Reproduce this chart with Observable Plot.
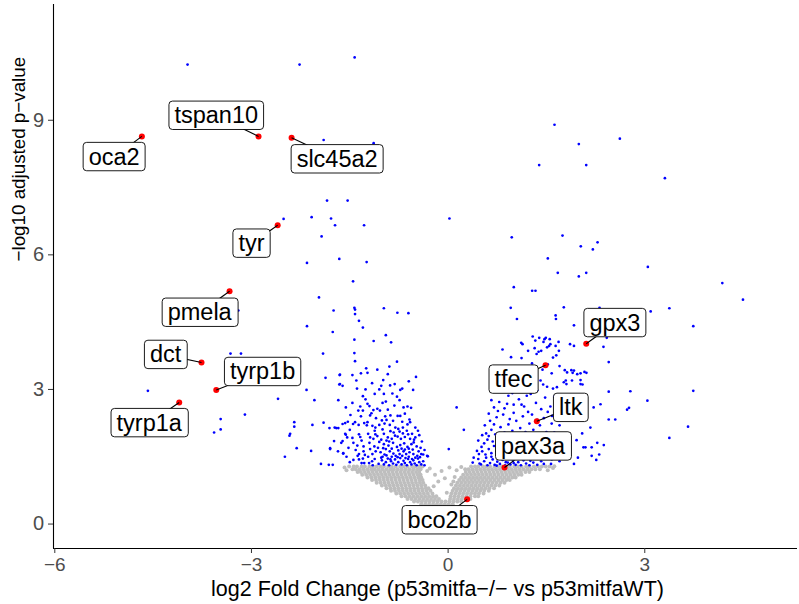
<!DOCTYPE html>
<html>
<head>
<meta charset="utf-8">
<script src="https://cdn.jsdelivr.net/npm/d3@7"></script>
<script src="https://cdn.jsdelivr.net/npm/@observablehq/plot@0.6"></script>
<style>
  html, body { margin: 0; padding: 0; background: #ffffff; }
  #chart svg { display: block; }
</style>
</head>
<body>
<div id="chart"></div>
<script>
// ---------- axis data ----------
const xTicks = [-6, -3, 0, 3];
const yTicks = [0, 3, 6, 9];
const xDomain = [-6.02, 5.33];
const yDomain = [-0.545, 11.58];
const xTitle = "log2 Fold Change (p53mitfa−/− vs p53mitfaWT)";
const yTitle = "−log10 adjusted p−value";

// ---------- non-significant genes (grey), rows of [-log10 padj, log2FC values] ----------
const greyRows = [
  [1.28, [-1.51,-1.44,-1.39,-1.32,-1.27,-1.20,-1.15,-1.09,-1.03,-0.98,-0.91,-0.86,-0.80,-0.73,-0.68,-0.62,-0.55,-0.50,-0.44,-0.39,
          0.35,0.41,0.46,0.53,0.58,0.64,0.71,0.76,0.82,0.89,0.94,1.01,1.06,1.12,1.19,1.24,1.31,1.37,1.43,1.49,1.55]],
  [1.22, [-1.46,-1.41,-1.35,-1.29,-1.23,-1.17,-1.12,-1.06,-1.00,-0.94,-0.88,-0.83,-0.77,-0.71,-0.65,-0.59,-0.53,-0.47,-0.42,
          0.31,0.37,0.43,0.49,0.55,0.61,0.67,0.73,0.79,0.85,0.91,0.97,1.03,1.09,1.15,1.21,1.27,1.33,1.40]],
  [1.16, [-1.38,-1.33,-1.27,-1.21,-1.15,-1.09,-1.03,-0.97,-0.91,-0.85,-0.79,-0.73,-0.67,-0.61,-0.55,-0.49,-0.44,
          0.27,0.33,0.39,0.45,0.51,0.57,0.63,0.69,0.75,0.81,0.87,0.93,0.99,1.05,1.11,1.18,1.24]],
  [1.10, [-1.31,-1.25,-1.19,-1.13,-1.07,-1.01,-0.95,-0.89,-0.83,-0.77,-0.71,-0.65,-0.59,-0.53,-0.47,-0.42,
          0.23,0.29,0.35,0.41,0.47,0.53,0.59,0.65,0.71,0.77,0.83,0.89,0.95,1.01,1.07,1.12]],
  [1.04, [-1.23,-1.17,-1.11,-1.05,-0.99,-0.93,-0.87,-0.81,-0.75,-0.69,-0.63,-0.57,-0.51,-0.45,-0.41,
          0.20,0.26,0.32,0.38,0.44,0.50,0.56,0.62,0.68,0.74,0.80,0.86,0.92,0.98,1.03]],
  [0.98, [-1.16,-1.10,-1.04,-0.98,-0.92,-0.86,-0.80,-0.74,-0.68,-0.62,-0.56,-0.50,-0.44,-0.39,
          0.17,0.23,0.29,0.35,0.41,0.47,0.53,0.59,0.65,0.71,0.77,0.83,0.89,0.94]],
  [0.92, [-1.09,-1.03,-0.97,-0.91,-0.85,-0.79,-0.73,-0.67,-0.61,-0.55,-0.49,-0.43,-0.38,
          0.14,0.20,0.26,0.32,0.38,0.44,0.50,0.56,0.62,0.68,0.74,0.80,0.86]],
  [0.86, [-1.01,-0.95,-0.89,-0.83,-0.77,-0.71,-0.65,-0.59,-0.53,-0.47,-0.41,-0.35,
          0.12,0.18,0.24,0.30,0.36,0.42,0.48,0.54,0.60,0.66,0.72,0.78]],
  [0.80, [-0.94,-0.88,-0.82,-0.76,-0.70,-0.64,-0.58,-0.52,-0.46,-0.40,-0.34,-0.30,
          0.09,0.15,0.21,0.27,0.33,0.39,0.45,0.51,0.57,0.63,0.70]],
  [0.74, [-0.87,-0.81,-0.75,-0.69,-0.63,-0.57,-0.51,-0.45,-0.39,-0.33,-0.27,
          0.07,0.13,0.19,0.25,0.31,0.37,0.43,0.49,0.55,0.62]],
  [0.68, [-0.79,-0.73,-0.67,-0.61,-0.55,-0.49,-0.43,-0.37,-0.31,-0.24,
          0.05,0.11,0.17,0.23,0.29,0.35,0.41,0.47,0.54]],
  [0.62, [-0.71,-0.65,-0.59,-0.53,-0.47,-0.41,-0.35,-0.29,-0.23,-0.18,
          0.04,0.10,0.16,0.22,0.28,0.34,0.41,0.46]],
  [0.56, [-0.62,-0.56,-0.50,-0.44,-0.38,-0.32,-0.26,-0.20,-0.14,
          0.03,0.09,0.15,0.21,0.27,0.34]],
  [0.50, [-0.52,-0.46,-0.40,-0.34,-0.28,-0.22,-0.16,-0.10,-0.04,0.02,0.08,0.14,0.20]],
  [0.44, [-0.41,-0.35,-0.29,-0.23,-0.17,-0.11,-0.05,0.01,0.07]],
  [0.38, [-0.30,-0.24,-0.18,-0.12,-0.06,0.00]]
];
const greyExtra = [
  [-0.28,1.24],[-0.20,1.10],[-0.10,1.18],[0.02,1.26],[0.10,1.05],[-0.15,0.95],[0.05,0.88],
  [0.20,1.27],[-0.05,1.02],[0.13,1.20],[-0.22,0.84],[-0.32,1.18],[0.26,1.22],
  [-1.58,1.26],[-1.55,1.20],[1.60,1.25],[1.62,1.29],[1.52,1.20],[-0.02,0.70],[0.08,0.95]
];

// ---------- significant genes (blue): [log2FC, -log10 padj] ----------
const blueLeft = [
  [-3.975,10.24],[-2.266,10.24],[-1.426,10.40],[-1.899,8.56],[-1.136,8.49],[-1.847,7.21],[-1.533,7.21],
  [-2.51,6.80],[-2.082,6.84],[-1.786,6.81],[-1.725,6.66],[-1.282,6.66],[-1.93,6.41],[-2.153,5.82],
  [-1.66,5.91],[-1.243,5.84],[-1.45,5.41],[-1.97,5.05],
  [-3.20,4.76],[-3.32,3.80],[-3.16,3.80],[-4.58,2.97],[-3.10,2.44],[-3.47,2.34],[-3.57,2.04],[-3.47,2.11],
  [-2.595,2.79],[-2.153,4.41],[-2.16,2.99],[-1.908,3.80],[-1.76,4.28],[-1.747,4.76],[-1.65,3.33],[-1.65,3.12],
  [-2.347,2.27],[-2.347,2.17],[-2.41,2.01],[-2.42,1.97],[-2.07,2.21],[-1.90,2.26],[-2.49,1.50],[-2.31,1.69],
  [-2.09,1.63],[-1.94,1.34],[-1.82,1.32],[-1.76,1.32],[-1.80,1.69],[-1.705,2.14],[-1.675,2.14],[-1.57,2.01],
  [-1.54,1.93],[-1.60,1.57],
  [-1.43,4.82],[-1.42,4.78],[-1.42,4.68],[-0.98,4.81],[-0.774,4.71],[-0.606,4.70],[-1.36,4.53],[-1.30,4.38],
  [-0.95,4.21],[-1.136,4.08],[-0.87,4.05],[-1.43,4.11],[-1.43,3.81],[-1.42,3.63],[-1.46,3.32],[-1.33,3.36],
  [-1.25,3.47],[-1.23,3.37],[-0.896,3.51],[-0.49,3.28],[-1.87,3.26],[-1.655,3.32],[-1.66,3.11],[-1.61,3.08],
  [-1.40,3.20],[-1.39,3.02],[-0.99,3.21],[-1.02,3.08],[-1.05,3.00],[-0.885,3.09],[-0.815,3.12],[-0.534,2.99],
  [-0.73,2.99],[-1.30,2.85],[-1.26,2.78],[-0.85,2.91],[-0.95,2.73],[-0.74,2.76],[-2.04,2.76],[-1.675,2.76],
  [-1.23,2.68],[-1.20,2.63],[-0.565,2.59],[-1.56,2.60],[-1.37,2.53],[-1.30,2.53],[-1.08,2.57],[-1.04,2.53],
  [-0.92,2.55],[-1.49,2.43],[-1.33,2.40],[-1.19,2.42],[-1.17,2.47],[-0.77,2.41],[-0.73,2.41],[-0.59,2.33],
  [-1.01,2.31],[-0.94,2.32],[-1.61,2.23],[-1.57,2.25],[-1.53,2.28],[-1.45,2.23],[-1.42,2.27],[-1.365,2.21],
  [-1.28,2.25],[-1.23,2.27],[-1.155,2.19],[-1.11,2.15],[-1.05,2.21],[-0.97,2.24],[-0.89,2.21],[-0.805,2.15],
  [-0.76,2.12],[-0.69,2.15],[-0.58,2.27],[-0.50,2.15],[-1.81,2.14],[-1.73,2.15],[-1.56,1.99],[-1.22,2.01],
  [-1.19,1.93],[-1.11,2.00],[-1.08,1.96],[-0.98,2.01],[-0.92,1.93],[-0.83,2.04],[-0.77,1.95],[-0.69,2.02],
  [-0.63,2.08],[-0.55,2.01],[-0.50,1.93],[-0.525,1.82],[-1.74,1.85],[-1.61,1.85],[-1.63,1.81],[-1.445,1.81],
  [-1.385,1.75],[-1.32,1.86],[-1.29,1.73],[-1.20,1.81],[-1.125,1.73],[-1.05,1.83],[-0.98,1.78],[-0.91,1.75],
  [-0.84,1.81],[-0.78,1.72],[-0.73,1.76],[-0.67,1.80],[-0.62,1.72],[-0.56,1.78],[-0.48,1.73],[-1.80,1.67],
  [-1.60,1.58],[-1.41,1.65],[-1.36,1.56],[-1.29,1.62],[-1.19,1.67],[-1.155,1.56],[-1.105,1.62],[-1.03,1.60],
  [-0.97,1.55],[-0.89,1.62],[-0.835,1.57],[-0.80,1.52],[-0.74,1.56],[-0.68,1.62],[-0.64,1.56],[-0.59,1.60],
  [-0.53,1.56],[-0.47,1.52],[-0.41,1.56],[-0.32,1.52],[-1.445,1.43],[-1.32,1.36],[-1.28,1.36],[-1.205,1.36],
  [-1.06,1.34],[-1.01,1.42],[-0.98,1.33],[-0.95,1.38],[-0.92,1.46],[-0.90,1.31],[-0.87,1.40],[-0.84,1.35],
  [-0.81,1.44],[-0.79,1.32],[-0.76,1.38],[-0.73,1.47],[-0.71,1.33],[-0.68,1.41],[-0.66,1.36],[-0.63,1.31],
  [-0.61,1.45],[-0.58,1.38],[-0.56,1.33],[-0.53,1.42],[-0.51,1.35],[-0.48,1.31],[-0.46,1.46],[-0.44,1.38],
  [-0.41,1.33],[-0.38,1.40],[-0.36,1.31],[-1.12,1.45],[-1.15,1.31],[-1.00,1.50],[-0.86,1.50],[-0.70,1.52],
  [-0.60,1.50],[-0.50,1.48],
  [-1.14,1.90],[-1.02,1.88],[-0.94,1.86],[-0.86,1.90],[-0.81,1.97],[-0.72,1.90],[-0.66,1.94],[-0.58,1.90],
  [-0.61,2.00],[-0.88,2.07],[-1.00,2.11],[-1.12,2.08],[-0.74,2.06],[-0.66,1.66],[-0.76,1.64],[-0.86,1.68],
  [-0.95,1.67],[-1.07,1.70],[-0.54,1.66],[-0.45,1.62],[-0.42,1.70],[-0.38,1.55],[-0.36,1.65],[-0.40,1.84],
  [-0.44,1.98],[-0.46,2.08],[-0.62,2.22],[-0.70,2.28],[-0.84,2.30],[-1.10,2.36],[-0.88,2.42],[-0.66,2.46],
  [-0.62,2.62],[-0.82,2.64],[-1.00,2.70],[-0.78,2.84],[-1.12,2.90],[-0.70,3.02],[-0.60,3.18],[-1.16,3.14],
  [-0.92,3.34],[-1.08,3.44],[-0.78,3.62],[-1.26,3.00],[-1.34,2.62],[-1.46,2.70],[-1.50,2.10],[-1.36,2.00],
  [-1.46,1.92],[-1.52,1.70],[-1.68,1.62],[-1.30,1.46],[-1.22,1.50],[-1.38,1.52],
  [-1.02,1.48],[-0.94,1.53],[-0.88,1.44],[-0.77,1.49],[-0.65,1.47],[-0.55,1.45],[-0.43,1.49],[-0.99,1.69],
  [-0.90,1.84],[-0.71,1.68],[-0.60,1.68],[-0.52,1.88],[-0.96,2.40],[-1.14,2.54],[-0.68,2.60],[-0.98,2.90],
  [-1.24,2.20],[-1.34,1.94],[-1.27,1.54],[-1.16,1.40],[-1.36,1.44],[-1.50,1.38],[-1.55,1.50],
  [-0.31,1.51],[0.01,1.67]
];
const blueRight = [
  [1.623,8.90],[1.994,8.47],[2.62,8.59],[1.389,8.00],[2.107,8.00],[3.307,7.71],[0.02,6.81],[0.971,6.39],
  [1.745,6.43],[2.024,6.19],[2.208,6.12],[2.28,6.28],[1.521,5.92],[3.047,5.73],[1.673,5.60],[1.994,5.52],
  [2.107,5.60],[4.183,5.37],[4.498,5.00],[1.002,5.28],[1.282,5.20],[1.333,5.20],
  [1.765,4.83],[1.64,4.65],[1.645,4.57],[0.955,4.82],[1.05,4.57],[1.92,4.43],[0.83,3.89],[1.115,4.04],
  [1.135,4.01],[1.29,4.18],[1.39,4.15],[1.33,4.09],[1.47,4.12],[1.49,4.15],[1.55,4.12],[1.56,4.01],
  [1.455,4.06],[1.51,3.94],[1.54,3.97],[1.685,4.06],[1.64,3.97],[1.69,3.86],[1.65,3.76],[1.60,3.71],
  [1.32,3.92],[1.35,3.79],[1.38,3.84],[1.42,3.86],[1.86,4.01],[1.92,3.97],[2.37,3.95],[2.42,4.15],
  [1.78,3.43],[1.88,3.43],[1.90,3.37],[1.97,3.34],[2.02,3.36],[2.08,3.39],[2.11,3.37],[1.795,3.20],
  [1.805,3.12],[2.02,3.21],[2.05,3.11],[2.45,2.95],[1.41,3.20],[1.45,3.11],[1.51,3.06],[0.13,2.60],
  [2.45,2.33],[2.55,2.33],[0.24,2.10],[0.44,1.63],[0.39,1.48],[0.375,1.37],[0.48,1.35],
  [2.31,4.82],[2.53,4.63],[3.09,4.74],[3.375,4.81],[3.74,4.41],[2.45,3.61],[2.78,2.96],[3.74,2.97],
  [3.04,2.75],[2.73,2.55],[2.76,2.59],[3.66,2.17],[3.375,1.92],
  [2.26,1.43],[2.19,1.52],[2.305,1.55],[2.375,1.76],[2.275,1.81],[2.19,1.71],[2.065,1.71],[1.96,1.87],
  [2.045,2.02],[2.095,1.71],[1.66,1.86],[1.765,2.01],[1.815,2.53],[2.17,2.15],[1.585,2.41],[1.66,1.56],
  [1.51,1.48],[1.255,1.41],[1.46,1.34],[1.57,1.34],[1.92,1.34],[1.98,1.48],[1.84,1.60],[2.22,2.60],
  [2.325,2.67],[2.02,3.12],[1.92,3.42],[1.815,3.38],[1.89,3.20],[1.765,3.16],[1.66,3.05],[1.71,2.82],
  [0.50,1.33],[0.55,1.40],[0.60,1.31],[0.64,1.36],[0.68,1.44],[0.71,1.32],[0.75,1.39],[0.79,1.34],
  [0.83,1.43],[0.87,1.31],[0.91,1.37],[0.95,1.33],[0.99,1.41],[1.03,1.32],[1.07,1.38],[1.11,1.31],
  [1.15,1.42],[1.19,1.35],[1.24,1.31],[1.30,1.37],[1.36,1.32],[1.42,1.40],[0.46,1.45],[0.58,1.48],
  [0.66,1.50],[0.78,1.47],[0.88,1.49],[0.97,1.46],[1.08,1.48],[1.20,1.46],[1.33,1.47],
  [0.47,1.56],[0.52,1.62],[0.57,1.55],[0.62,1.67],[0.66,1.58],[0.70,1.74],[0.74,1.62],[0.78,1.56],
  [0.82,1.70],[0.86,1.60],[0.90,1.78],[0.94,1.66],[0.98,1.57],[1.02,1.72],[1.06,1.63],[1.10,1.82],
  [1.15,1.56],[1.20,1.70],[1.26,1.60],[1.32,1.76],[1.40,1.62],[1.48,1.70],[0.55,1.80],[0.60,1.88],
  [0.68,1.84],[0.76,1.90],[0.84,1.84],[0.96,1.88],[1.04,1.94],[1.16,1.92],[1.25,1.86],[1.38,1.90],
  [0.51,1.72],
  [0.58,2.02],[0.66,2.10],[0.72,2.00],[0.80,2.16],[0.86,2.04],[0.92,2.22],[0.98,2.08],[1.04,2.30],
  [1.10,2.14],[1.18,2.05],[1.24,2.24],[1.30,2.10],[1.40,2.20],[1.50,2.05],[0.64,2.30],[0.74,2.38],
  [0.84,2.44],[0.94,2.34],[1.00,2.48],[1.14,2.40],[1.22,2.50],[1.46,2.36],[1.58,2.24],[0.70,2.22],
  [0.62,2.46],
  [0.70,2.60],[0.78,2.72],[0.86,2.58],[0.92,2.86],[1.00,2.66],[1.08,2.78],[1.16,2.62],[1.26,2.90],
  [1.34,2.70],[1.48,2.82],[1.56,2.62],[0.82,3.00],[0.96,3.10],[1.06,3.00],[1.12,3.22],[1.22,3.06],
  [1.30,3.30],[0.74,3.24],[0.88,3.44],[1.04,3.50],[1.18,3.38],[1.60,3.02],[1.70,2.72],
  [1.12,2.66],[1.42,2.56],[1.36,2.98],[1.20,2.86],[0.98,2.92],[0.90,2.68],[1.28,2.44],[1.36,2.32],
  [1.52,2.50],[1.62,2.84],[1.44,3.44],[1.52,3.56],[1.28,3.58],[1.12,3.70],[0.96,3.72],[1.22,3.86],
  [1.58,3.36],[1.70,3.52],[0.66,2.76],[0.76,2.52],[0.56,2.20],[0.52,1.98],[0.46,1.86],[0.62,1.96],
  [1.28,2.00],[1.44,1.96],[1.56,1.84],[1.62,2.04],[1.70,2.20],[1.74,2.38],[1.36,1.54],[1.50,1.58],
  [1.58,1.44],[1.70,1.40],[1.76,1.70],[1.86,1.82],[1.12,1.66],[1.26,1.48],[0.92,1.52],[0.74,1.30],
  [0.88,1.38],[1.00,1.36]
];

// ---------- highlighted genes (red) and their label anchors ----------
const genes  = ["oca2","tspan10","slc45a2","tyr","pmela","dct","tyrp1b","tyrp1a","gpx3","tfec","ltk","pax3a","bco2b"];
const geneFC = [-4.672,-2.892,-2.388,-2.60,-3.334,-3.762,-3.537,-4.102, 2.107, 1.486, 1.353, 0.860, 0.290];
const genePV = [ 8.64,  8.64,  8.61,  6.66,  5.19,  3.60,  2.99,  2.71,  4.02,  3.54,  2.29,  1.26,  0.55];
const labelFC = [-5.095,-3.537,-1.693,-3.00,-3.79,-4.31,-2.83,-4.56, 2.544, 0.997, 1.87, 1.295,-0.13];
const labelPV = [ 8.18,  9.10,  8.13,  6.25,  4.71, 3.77,  3.39, 2.25, 4.48,  3.22,  2.59, 1.73,  0.085];

// ---------- build tables ----------
const grey = greyRows.flatMap(([y, xs]) => xs.map(x => ({x, y}))).concat(greyExtra.map(([x, y]) => ({x, y})));
const blue = blueLeft.concat(blueRight).map(([x, y]) => ({x, y}));
const hl = genes.map((g, i) => ({gene: g, x: geneFC[i], y: genePV[i], lx: labelFC[i], ly: labelPV[i]}));

const FONT = "'Liberation Sans', Arial, Helvetica, sans-serif";
const fmt = d => d < 0 ? "−" + Math.abs(d) : String(d);

const chart = Plot.plot({
  width: 799,
  height: 604,
  marginLeft: 53,
  marginRight: 2,
  marginTop: 4,
  marginBottom: 56,
  style: {fontFamily: FONT, background: "#ffffff", overflow: "visible"},
  x: {domain: xDomain, ticks: xTicks, tickFormat: fmt},
  y: {domain: yDomain, ticks: yTicks},
  marks: [
    Plot.dot(grey, {x: "x", y: "y", r: 2.0, fill: "#bebebe", stroke: null}),
    Plot.dot(blue, {x: "x", y: "y", r: 1.35, fill: "#0000ff", stroke: null}),
    Plot.dot(hl, {x: "x", y: "y", r: 3, fill: "#ff0000", stroke: null}),
    Plot.link(hl, {x1: "x", y1: "y", x2: "lx", y2: "ly", stroke: "#000000", strokeWidth: 1.1}),
    Plot.text(hl, {x: "lx", y: "ly", text: "gene", fontSize: 23.5, fill: "#000000", className: "gene-label"}),
    Plot.ruleX([xDomain[0]], {stroke: "#000000", strokeWidth: 1.1}),
    Plot.ruleY([yDomain[0]], {stroke: "#000000", strokeWidth: 1.1}),
    Plot.axisX({ticks: xTicks, tickSize: 5, tickPadding: 4, fontSize: 19, color: "#4d4d4d", stroke: "#333333", label: null,
                tickFormat: fmt}),
    Plot.axisY({ticks: yTicks, tickSize: 5, tickPadding: 4.5, fontSize: 20, color: "#4d4d4d", stroke: "#333333", label: null}),
    Plot.text([xTitle], {frameAnchor: "bottom", dx: 12, dy: 40.5, fontSize: 21.5, fill: "#000000", lineAnchor: "middle"}),
    Plot.text([yTitle], {frameAnchor: "left", dx: -34.5, dy: -15, rotate: -90, fontSize: 18.8, fill: "#000000", lineAnchor: "middle"})
  ]
});

document.getElementById("chart").append(chart);

// white rounded boxes behind gene labels (ggrepel-style)
const svgNS = "http://www.w3.org/2000/svg";
chart.querySelectorAll("g.gene-label text").forEach(t => {
  const b = t.getBBox();
  const padX = 5.5, padY = 1.2;
  const r = document.createElementNS(svgNS, "rect");
  r.setAttribute("x", b.x - padX);
  r.setAttribute("y", b.y - padY);
  r.setAttribute("width", b.width + 2 * padX);
  r.setAttribute("height", b.height + 2 * padY);
  r.setAttribute("rx", 3.5);
  r.setAttribute("fill", "#ffffff");
  r.setAttribute("stroke", "#000000");
  r.setAttribute("stroke-width", 0.9);
  const tr = t.getAttribute("transform");
  if (tr) r.setAttribute("transform", tr);
  t.parentNode.insertBefore(r, t);
});
</script>
</body>
</html>
